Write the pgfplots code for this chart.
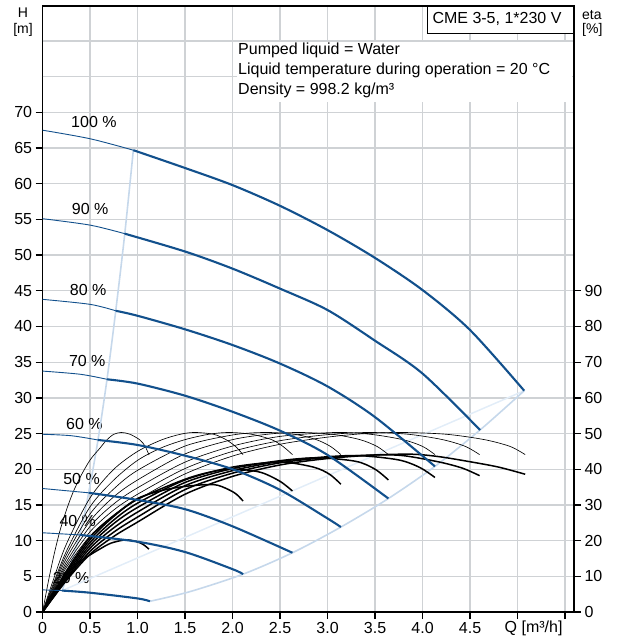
\documentclass[border=0pt]{standalone}
\usepackage{fontspec}
\setmainfont{Liberation Sans}
\usepackage{pgfplots}
\pgfplotsset{compat=1.18}

\definecolor{curveblue}{HTML}{12508C}
\definecolor{limitblue}{HTML}{C6D8EB}
\definecolor{faintblue}{HTML}{E2EDF8}
\definecolor{gridgray}{HTML}{CFD2D5}

\newcommand\lbl{\fontsize{16bp}{18bp}\selectfont}
\newcommand\ttl{\fontsize{14bp}{16bp}\selectfont}

\pgfplotsset{
  etathin/.style={black, line width=0.65bp, smooth, no markers, y filter/.expression={y/2}},
  etathick/.style={black, line width=1.5bp, smooth, no markers, y filter/.expression={y/2}},
  hthin/.style={curveblue, line width=0.9bp, smooth, no markers},
  hthick/.style={curveblue, line width=2.1bp, smooth, no markers},
}

\begin{document}
\begin{tikzpicture}
\useasboundingbox (0,0) rectangle (618bp,639bp);

\begin{axis}[
  at={(42.6bp,27bp)}, anchor=south west,
  scale only axis, width=531.4bp, height=606bp,
  xmin=0, xmax=5.594, ymin=0, ymax=84.9,
  xtick={0,0.5,1,1.5,2,2.5,3,3.5,4,4.5,5,5.5},
  xticklabels={0,0.5,1.0,1.5,2.0,2.5,3.0,3.5,4.0,4.5,,},
  ytick={0,5,...,70},
  extra y ticks={75,80},
  extra y tick labels={},
  extra y tick style={grid=major, major tick length=0pt},
  grid=major,
  grid style={gridgray, line width=1.3bp},
  axis line style={black, line width=1.6bp},
  tick style={black, line width=1.3bp},
  major tick length=7bp,
  tick align=outside,
  xtick pos=left, ytick pos=left,
  ticklabel style={font=\lbl},
  /pgf/number format/assume math mode=true,
]

% info text block
\fill[white] (axis cs:2.046,71.4) rectangle (axis cs:5.57,79.8);
\node[font=\lbl, anchor=base west, inner sep=0pt] at (axis cs:2.057,78.15) {Pumped liquid = Water};
\node[font=\lbl, anchor=base west, inner sep=0pt] at (axis cs:2.057,75.35) {Liquid temperature during operation = 20 °C};
\node[font=\lbl, anchor=base west, inner sep=0pt] at (axis cs:2.057,72.55) {Density = 998.2 kg/m³};

% speed labels
\node[font=\lbl] at (axis cs:0.54,68.6) {100 \%};
\node[font=\lbl] at (axis cs:0.50,56.4) {90 \%};
\node[font=\lbl] at (axis cs:0.48,45.1) {80 \%};
\node[font=\lbl] at (axis cs:0.47,35.2) {70 \%};
\node[font=\lbl] at (axis cs:0.44,26.3) {60 \%};
\node[font=\lbl] at (axis cs:0.41,18.7) {50 \%};
\node[font=\lbl] at (axis cs:0.37,12.7) {40 \%};
\node[font=\lbl] at (axis cs:0.30,4.7) {20 \%};

% limit lines
\addplot[faintblue, line width=1.5bp] coordinates {(0.206,3.0) (3.0,19.1) (5.07,31.0)};
\addplot[limitblue, line width=1.6bp, smooth] coordinates {
  (0.206,3.0) (0.39,10.8) (0.485,16.7) (0.583,24.1) (0.678,32.6) (0.77,42.2) (0.865,53.0) (0.955,64.7)};
\addplot[limitblue, line width=1.6bp, smooth] coordinates {
  (1.13,1.5) (1.55,2.85) (2.11,5.3) (2.63,8.3) (3.14,11.9) (3.64,15.9) (4.13,20.4) (4.605,25.5) (5.07,31.0)};

% efficiency curves, eta [%] (right scale)
\addplot[etathin] coordinates {(0,0) (0.06,8.5) (0.12,16) (0.18,22.5) (0.25,28.5) (0.32,33.5) (0.4,38) (0.5,42.6) (0.6,45.8) (0.675,48.2) (0.75,49.8) (0.83,50.3) (0.92,49.8) (1.025,48.2) (1.08,46.4) (1.12,44.0)};
\addplot[etathin] coordinates {(0,0) (0.1,8) (0.25,19) (0.5,32) (0.75,40) (1.0,45) (1.25,48.2) (1.45,49.8) (1.6,50.3) (1.8,49.8) (1.93,48.3) (2.03,46.4) (2.11,44.1)};
\addplot[etathin] coordinates {(0,0) (0.1,7) (0.25,17) (0.5,29.5) (0.75,37) (1.0,42.5) (1.25,46) (1.5,48.3) (1.75,49.8) (1.96,50.3) (2.2,49.8) (2.41,48.3) (2.53,46.4) (2.63,44.1)};
\addplot[etathin] coordinates {(0,0) (0.1,6.5) (0.25,16) (0.5,27.5) (0.75,34.5) (1.0,39.7) (1.5,46.5) (2.0,49.6) (2.34,50.3) (2.65,49.8) (2.88,48.3) (3.03,46.4) (3.14,44.1)};
\addplot[etathin] coordinates {(0,0) (0.1,6) (0.25,15) (0.5,25.5) (0.75,32.3) (1.0,37) (1.5,44.3) (2.0,48.3) (2.4,49.9) (2.71,50.3) (3.05,49.8) (3.34,48.3) (3.52,46.4) (3.64,44.1)};
\addplot[etathin] coordinates {(0,0) (0.1,5.6) (0.25,14) (0.5,24) (0.75,30.3) (1.0,34.8) (1.5,42) (2.0,46.5) (2.5,49.2) (3.08,50.3) (3.45,49.8) (3.79,48.3) (4.0,46.4) (4.13,44.1)};
\addplot[etathin] coordinates {(0,0) (0.1,5.3) (0.25,13.2) (0.5,22.5) (0.75,28.6) (1.0,33) (1.5,40.2) (2.0,45) (2.5,48) (3.0,49.7) (3.43,50.3) (3.85,49.8) (4.21,48.3) (4.45,46.4) (4.6,44.1)};
\addplot[etathin] coordinates {(0,0) (0.1,5) (0.25,12.5) (0.5,21.3) (0.75,27.2) (1.0,31.5) (1.5,38.7) (2.0,43.7) (2.5,47) (3.0,49) (3.4,50) (3.78,50.3) (4.25,49.8) (4.65,48.3) (4.92,46.4) (5.08,44.1)};

\addplot[etathick] coordinates {(0,0) (0.1,4.8) (0.2,8.8) (0.3,12) (0.4,14.3) (0.5,16) (0.6,17.6) (0.72,19.3) (0.87,20.2) (0.98,19.8) (1.06,18.9) (1.12,17.6)};
\addplot[etathick] coordinates {(0,0) (0.25,11.5) (0.5,21) (0.75,27) (1.0,31.8) (1.25,34) (1.5,35.2) (1.8,35.7) (1.95,34.4) (2.04,33) (2.11,31.1)};
\addplot[etathick] coordinates {(0,0) (0.25,11) (0.5,20.3) (0.75,26.8) (1.0,31.6) (1.5,37.2) (1.8,39.4) (2.05,40) (2.3,39.1) (2.5,36.6) (2.63,33.9)};
\addplot[etathick] coordinates {(0,0) (0.25,10.5) (0.5,19.5) (0.75,25.8) (1.0,30.5) (1.5,37) (2.0,40.6) (2.5,42) (2.85,40.6) (3.02,38.6) (3.14,35.8)};
\addplot[etathick] coordinates {(0,0) (0.25,10) (0.5,18.7) (0.75,24.8) (1.0,29.3) (1.5,36.3) (2.0,40.2) (2.5,42.4) (2.9,43.2) (3.3,42.2) (3.5,40) (3.64,37)};
\addplot[etathick] coordinates {(0,0) (0.25,9.5) (0.5,17.9) (0.75,23.6) (1.0,28) (1.5,35.4) (2.0,39.6) (2.5,42.2) (3.0,43.5) (3.35,43.8) (3.75,42.6) (3.97,40.5) (4.13,37.7)};
\addplot[etathick] coordinates {(0,0) (0.25,9.1) (0.5,17) (0.75,22.4) (1.0,26.6) (1.5,34.3) (2.0,38.9) (2.5,41.8) (3.0,43.3) (3.5,44) (3.8,43.8) (4.18,42) (4.42,40.3) (4.6,38.2)};
\addplot[etathick] coordinates {(0,0) (0.25,8.8) (0.5,16.2) (0.75,21.2) (1.0,25.2) (1.5,33) (2.0,38) (2.5,41.2) (3.0,43) (3.5,44) (3.9,44.2) (4.18,43.5) (4.5,42.1) (4.8,40.6) (5.08,38.6)};

% head curves H [m]
\addplot[hthin]  coordinates {(0,67.5) (0.5,66.3) (0.955,64.7)};
\addplot[hthick] coordinates {(0.955,64.7) (1.5,62.2) (2.0,59.8) (2.5,56.9) (3.0,53.5) (3.5,49.6) (4.0,45.1) (4.5,39.5) (5.07,31.0)};
\addplot[hthin]  coordinates {(0,55.1) (0.5,54.2) (0.865,53.0)};
\addplot[hthick] coordinates {(0.865,53.0) (1.5,50.5) (2.0,48.1) (2.5,45.3) (3.0,42.3) (3.5,38.0) (4.0,33.4) (4.605,25.5)};
\addplot[hthin]  coordinates {(0,43.8) (0.5,43.1) (0.77,42.2)};
\addplot[hthick] coordinates {(0.77,42.2) (1.0,41.5) (1.5,39.6) (2.0,37.4) (2.5,34.8) (3.0,31.6) (3.5,27.3) (4.13,20.4)};
\addplot[hthin]  coordinates {(0,33.75) (0.4,33.3) (0.678,32.6)};
\addplot[hthick] coordinates {(0.678,32.6) (1.0,32.0) (1.5,30.3) (2.0,28.05) (2.5,25.4) (3.0,22.0) (3.64,15.9)};
\addplot[hthin]  coordinates {(0,24.9) (0.3,24.7) (0.583,24.1)};
\addplot[hthick] coordinates {(0.583,24.1) (1.0,23.4) (1.5,21.9) (2.0,20.0) (2.5,17.1) (3.0,13.1) (3.14,11.9)};
\addplot[hthin]  coordinates {(0,17.3) (0.485,16.7)};
\addplot[hthick] coordinates {(0.485,16.7) (1.0,15.7) (1.5,14.4) (2.0,12.0) (2.63,8.3)};
\addplot[hthin]  coordinates {(0,11.1) (0.39,10.8)};
\addplot[hthick] coordinates {(0.39,10.8) (1.0,9.85) (1.5,8.4) (2.0,6.0) (2.11,5.3)};
\addplot[hthin]  coordinates {(0,3.1) (0.206,3.0)};
\addplot[hthick] coordinates {(0.206,3.0) (0.5,2.7) (1.0,1.9) (1.13,1.5)};
\end{axis}

% right-hand eta scale
\begin{axis}[
  at={(42.6bp,27bp)}, anchor=south west,
  scale only axis, width=531.4bp, height=606bp,
  xmin=0, xmax=5.594, ymin=0, ymax=169.8,
  axis x line=none, axis y line*=right,
  ytick={0,10,...,90},
  axis line style={black, line width=1.6bp},
  tick style={black, line width=1.3bp},
  major tick length=7bp,
  tick align=outside,
  yticklabel style={font=\lbl},
  /pgf/number format/assume math mode=true,
]
\end{axis}

% type box
\fill[white] (427bp,606bp) rectangle (573.2bp,632.2bp);
\draw[line width=0.9bp] (427bp,632.2bp) -- (427bp,606bp) -- (573.2bp,606bp);
\node[font=\lbl, anchor=base, inner sep=0pt] at (497bp,615bp) {CME 3-5, 1*230 V};

% axis titles
\node[font=\ttl, anchor=base, inner sep=0pt] at (23bp,621bp) {H};
\node[font=\ttl, anchor=base, inner sep=0pt] at (23bp,605.5bp) {[m]};
\node[font=\ttl, anchor=base west, inner sep=0pt] at (582bp,619bp) {eta};
\node[font=\ttl, anchor=base west, inner sep=0pt] at (582bp,605.5bp) {[\%]};
\node[font=\lbl, anchor=base, inner sep=0pt] at (533.6bp,7bp) {Q [m³/h]};
\end{tikzpicture}
\end{document}
